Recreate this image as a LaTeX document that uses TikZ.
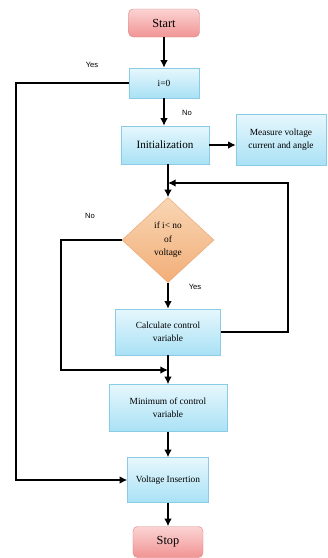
\documentclass[tikz,border=0pt]{standalone}
\usepackage{fontspec}
\setmainfont{Liberation Serif}
\newfontfamily\labelfont{Liberation Sans}
\usetikzlibrary{shapes.geometric,calc,positioning,arrows.meta}

\definecolor{boxtop}{HTML}{E6F7FD}
\definecolor{boxbot}{HTML}{A9E1F5}
\definecolor{boxline}{HTML}{8CCBE6}
\definecolor{termtop}{HTML}{FBD3D3}
\definecolor{termbot}{HTML}{F19494}
\definecolor{termline}{HTML}{D98A8A}
\definecolor{dectop}{HTML}{F8D6B4}
\definecolor{decbot}{HTML}{F2AE78}
\definecolor{decline}{HTML}{E8A673}

\begin{document}
\begin{tikzpicture}[x=0.03cm,y=-0.03cm,
  every node/.style={align=center,font=\fontsize{8}{11.5}\selectfont},
  proc/.style={rectangle,draw=boxline,top color=boxtop,bottom color=boxbot,inner sep=2pt},
  term/.style={rectangle,rounded corners=4pt,draw=termline,top color=termtop,bottom color=termbot,font=\fontsize{10.5}{12}\selectfont},
  dec/.style={diamond,draw=decline,top color=dectop,bottom color=decbot,inner sep=0pt,minimum width=2.76cm,minimum height=2.55cm},
  lbl/.style={font=\labelfont\fontsize{6.5}{8}\selectfont},
  flow/.style={line width=1.3pt,-{Latex[length=6.5pt,width=6.5pt]}}]
\useasboundingbox (0,0) rectangle (327,558);
% boxes
\node [term,minimum width=2.13cm,minimum height=0.84cm] (start) at (164,23) {Start};
\node [proc,minimum width=2.1cm,minimum height=0.9cm] (izero) at (164,83) {i=0};
\node [proc,minimum width=2.64cm,minimum height=1.14cm,font=\fontsize{9.5}{11}\selectfont] (initn) at (165,145) {Initialization};
\node [proc,minimum width=2.7cm,minimum height=1.53cm] (meas) at (281,140) {Measure voltage\\current and angle};
\node [dec] (check) at (168,240) {if i< no\\of\\voltage};
\node [proc,minimum width=3.15cm,minimum height=1.38cm] (calcv) at (168,332) {Calculate control\\variable};
\node [proc,minimum width=3.54cm,minimum height=1.41cm] (minv) at (168,408) {Minimum of control\\variable};
\node [proc,minimum width=2.43cm,minimum height=1.35cm] (volt) at (168,480) {Voltage Insertion};
\node [term,minimum width=2.1cm,minimum height=0.93cm] (stop) at (168,542) {Stop};
% branch labels
\node [lbl] (yesA) at (92,65) {Yes};
\node [lbl] (noA) at (187,113) {No};
\node [lbl] (noB) at (90,216) {No};
\node [lbl] (yesB) at (195,287) {Yes};
% turning points
\coordinate (loopR) at (288,183);
\coordinate (noL) at (61,370);
\coordinate (yesL) at (16,484);
% connectors
\draw [flow] (start) -- (izero);
\draw [flow] (izero) -- (izero |- initn.north);
\draw [flow] (initn.east) -- (initn.east -| meas.west);
\draw [flow] (initn.south -| check.north) -- (check.north);
\draw [flow] (check) -- (calcv);
\draw [flow] (calcv.east) -| (loopR) -- (check.north |- loopR);
\draw [flow] (check.west) -- (check.west -| noL) |- (calcv.south |- noL);
\draw [flow] (calcv) -- (minv);
\draw [flow] (minv) -- (volt);
\draw [flow] (izero.west) -- (izero.west -| yesL) |- (volt.west);
\draw [flow] (volt) -- (stop);
\end{tikzpicture}
\end{document}
